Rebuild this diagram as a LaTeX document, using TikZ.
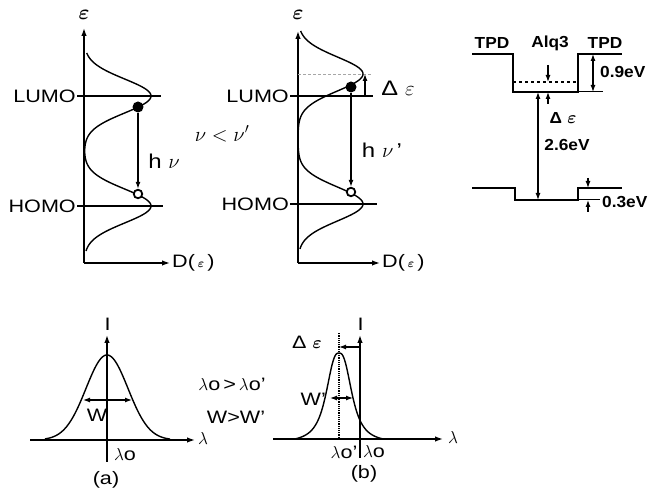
\documentclass[tikz,border=0pt]{standalone}
\usepackage{amsmath}
\usepackage{fontspec}
\setmainfont[FakeStretch=1.2]{Liberation Sans}
\newfontfamily\lvlfont[FakeStretch=1.08]{Liberation Sans}
\usetikzlibrary{arrows.meta,positioning}
\tikzset{
  axisarr/.style={-{Latex[length=8pt,width=5.5pt]},line width=1.4pt},
  dosline/.style={line width=1.4pt},
  lvlline/.style={line width=1.4pt},
  guide/.style={line width=.9pt,densely dashed,gray!70},
  lvlarr/.style={-{Latex[length=7pt,width=5pt]},line width=1.2pt},
  lvldbl/.style={{Latex[length=7pt,width=5pt]}-{Latex[length=7pt,width=5pt]},line width=1.2pt},
  lbl/.style={font=\fontsize{18}{21}\selectfont,inner sep=1pt},
  smalllbl/.style={font=\lvlfont\bfseries\fontsize{16}{19}\selectfont,inner sep=1pt},
  epslbl/.style={font=\fontsize{22}{24}\selectfont,inner sep=1pt},
  electron/.style={circle,fill,inner sep=0pt,minimum size=11pt},
  hole/.style={circle,draw,line width=1.8pt,fill=white,inner sep=0pt,minimum size=8.5pt}
}

\begin{document}
\begin{tikzpicture}[x=1pt,y=1pt,
  declare function={gs(\u)=exp(-min(0.5*\u*\u,20)); lz(\u)=1/(1+(\u*\u/196+0.0001)^1.35);}]
  \path[use as bounding box] (0,0) rectangle (661,489);

  % density of states (a)
  \coordinate (ao) at (84,226);
  \draw[axisarr] (ao) -- (84,461) coordinate (aeps);
  \node[epslbl] (aepslbl) at (84,474) {$\boldsymbol\varepsilon$};
  \draw[axisarr] (ao) -- (170,226) coordinate (ad);
  \node[lbl,right=1pt of ad] (adlbl) {D(\,$\scriptstyle\boldsymbol\varepsilon$\,)};
  \draw[lvlline] (77,393) coordinate (alumo) -- (161,393);
  \node[lbl,left=0pt of alumo] (alumolbl) {LUMO};
  \draw[lvlline] (77,283) coordinate (ahomo) -- (163,283);
  \node[lbl,left=0pt of ahomo] (ahomolbl) {HOMO};
  \draw[dosline] plot[domain=238:436,samples=160,variable=\t]
    ({84+67*gs((\t-393)/17)+67*gs((\t-283)/17)},\t);
  \node[electron] (adot) at (138,382) {};
  \node[hole] (ahole) at (138,295) {};
  \draw[lvlarr] (adot) -- (ahole);
  \node[lbl,font=\fontsize{20}{22}\selectfont] (ahnu) at (164,328) {h $\nu$};
  \node[lbl,font=\fontsize{20}{22}\selectfont] (nucmp) at (222,355) {$\nu<\nu'$};

  % density of states (b)
  \coordinate (bo) at (298,226);
  \draw[axisarr] (bo) -- (298,458) coordinate (beps);
  \node[epslbl] (bepslbl) at (298,474) {$\boldsymbol\varepsilon$};
  \draw[axisarr] (bo) -- (380,226) coordinate (bd);
  \node[lbl,right=1pt of bd] (bdlbl) {D(\,$\scriptstyle\boldsymbol\varepsilon$\,)};
  \draw[guide] (298,415) -- (372,415) coordinate (bpeak);
  \draw[lvlline] (290,393) coordinate (blumo) -- (373,393);
  \node[lbl,left=0pt of blumo] (blumolbl) {LUMO};
  \draw[lvlline] (290,285) coordinate (bhomo) -- (377,285);
  \node[lbl,left=0pt of bhomo] (bhomolbl) {HOMO};
  \draw[dosline] plot[domain=240:458,samples=160,variable=\t]
    ({298+65*gs((\t-415)/17)+65*gs((\t-285)/17)},\t);
  \draw[lvlarr] (365,393) -- (365,415);
  \node[lbl,font=\fontsize{21}{24}\selectfont] (bdeps) at (398,401) {Δ\,\,$\varepsilon$};
  \node[electron] (bdot) at (351,402) {};
  \node[hole] (bhole) at (351,297) {};
  \draw[lvlarr] (bdot) -- (bhole);
  \node[lbl,font=\fontsize{20}{22}\selectfont] (bhnu) at (382,339) {h $\nu$\,'};

  % energy levels TPD / Alq3
  \draw[lvlline] (472,435) -- (513,435) -- (513,397) coordinate (qlumo)
    -- (578,397) -- (578,435) -- (622,435);
  \draw[lvlline,dashed] (513,407) -- (578,407);
  \draw[lvlline] (472,301) -- (515,301) -- (515,289) -- (578,289) -- (578,301) -- (622,301);
  \draw[line width=1pt] (578,397) -- (603,397);
  \draw[line width=1pt] (578,289) -- (600,289);
  \node[smalllbl] (tpdl) at (492,446) {TPD};
  \node[smalllbl] (alq) at (550,446) {Alq3};
  \node[smalllbl] (tpdr) at (605,446) {TPD};
  \draw[lvlarr] (548,424) -- (548,407);
  \draw[lvlarr] (548,385) -- (548,397);
  \draw[lvldbl] (593,435) -- (593,397);
  \node[smalllbl,anchor=west] (gap09) at (599,417) {0.9eV};
  \draw[lvldbl] (538,397) -- (538,289);
  \node[smalllbl] (qdeps) at (563,371) {Δ\,\,$\boldsymbol\varepsilon$};
  \node[smalllbl] (gap26) at (567,344) {2.6eV};
  \draw[lvlarr] (588,311) -- (588,301);
  \draw[lvlarr] (588,277) -- (588,289);
  \node[smalllbl,anchor=west] (gap03) at (601,287) {0.3eV};

  % spectrum (a)
  \draw[axisarr] (30,49) -- (195,49) coordinate (alam);
  \node[lbl] (alamlbl) at (203,50) {$\lambda$};
  \draw[axisarr] (107,27) -- (107,154) coordinate (ai);
  \node[lbl] (ailbl) at (107,165) {$\mathrm{I}$};
  \draw[dosline] plot[domain=45:170,samples=100] (\x,{49+85*gs((\x-107)/21)});
  \draw[lvldbl] (83,89) -- (132,89);
  \node[lbl] (aw) at (97,74) {W};
  \node[lbl] (alo) at (125,34) {$\lambda$o};
  \node[lbl] (acap) at (106,9) {(a)};

  \node[lbl] (locmp) at (232,105) {$\lambda$o\,>\,$\lambda$o'};
  \node[lbl] (wcmp) at (236,72) {W>W'};

  % spectrum (b)
  \draw[axisarr] (273,50) -- (443,50) coordinate (blam);
  \node[lbl] (blamlbl) at (453,51) {$\lambda$};
  \draw[axisarr] (360,31) -- (360,154) coordinate (bi);
  \node[lbl] (bilbl) at (360,165) {$\mathrm{I}$};
  \draw[densely dotted,line width=1.2pt] (339,49) -- (339,156) coordinate (bcen);
  \draw[dosline] plot[domain=295:383,samples=120] (\x,{50+86*(lz(\x-339)-0.043)/0.957});
  \draw[lvlarr] (360,142) -- (339,142);
  \node[lbl] (bdepsb) at (307,147) {Δ\,\,$\boldsymbol\varepsilon$};
  \draw[lvldbl] (330,91) -- (353,91);
  \node[lbl,anchor=east] (bw) at (327,90) {W'};
  \node[lbl] (blo2) at (344,37) {$\lambda$o'};
  \node[lbl] (blo) at (374,37) {$\lambda$o};
  \node[lbl] (bcap) at (364,15) {(b)};
\end{tikzpicture}
\end{document}
